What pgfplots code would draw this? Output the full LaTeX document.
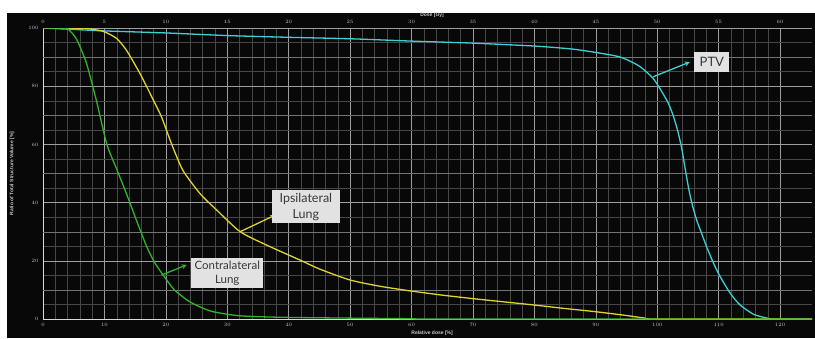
\documentclass[border=0pt]{standalone}
\usepackage{pgfplots}
\pgfplotsset{compat=1.18}
\usepackage{fontspec}
\setmainfont{Lato}
\newfontfamily\tickfont{Liberation Sans}
\usetikzlibrary{arrows.meta}
\definecolor{ptvc}{RGB}{62,208,210}
\definecolor{ipsc}{RGB}{222,212,48}
\definecolor{conc}{RGB}{52,178,44}
\definecolor{boxc}{RGB}{226,226,226}
\definecolor{panel}{RGB}{8,8,8}
\begin{document}
\begin{tikzpicture}[x=1pt,y=1pt]
\fill[white] (0,0) rectangle (815,338);
\fill[panel] (7,0) rectangle (815,325);
\begin{axis}[
  at={(43pt,19pt)}, anchor=south west,
  scale only axis, width=769pt, height=291pt,
  xmin=0, xmax=125.2, ymin=0, ymax=100,
  clip mode=individual,
  axis line style={draw=white!85!black, line width=0.8pt},
  axis x line*=bottom, axis y line*=left,
  xtick={0,10,...,120}, ytick={0,20,...,100},
  extra y ticks={10,30,50,70,90}, extra y tick labels={},
  extra y tick style={grid=major, major grid style={draw=white!45!black, line width=0.4pt}},
  minor x tick num=4, minor y tick num=3,
  grid=both,
  major grid style={draw=white!62!black, line width=0.5pt},
  minor grid style={draw=white!28!black, line width=0.4pt},
  major tick length=0pt, minor tick length=0pt,
  ticklabel style={font=\tickfont\bfseries\fontsize{5.5}{6.5}\selectfont, text=white!78!black},
  xticklabel style={yshift=-1pt},
  yticklabel style={xshift=-1pt},
]
\addplot[ptvc, line width=1.3pt, smooth, tension=0.4] coordinates {
(0,100) (3,99.7) (6,99.4) (10,99.0) (20,98.3) (30,97.4) (40,96.8) (50,96.3)
(60,95.5) (70,94.8) (80,93.8) (86,92.8) (90,91.6) (94,90) (97,87) (99.4,82.5)
(101.6,75) (102.5,70.5) (103.3,65) (104,58.5) (104.6,51) (105.2,44) (105.8,38.5)
(106.5,33.5) (107.3,29) (108.1,24.5) (109.1,19.5) (110.1,15.1) (111.9,8.8)
(113.5,4.8) (115.7,1.6) (117.9,0.3) (119,0) (125.2,0)};
\addplot[ipsc, line width=1.3pt, smooth, tension=0.4] coordinates {
(0,100) (4,100) (7,99.8) (8.5,99.4) (10,98.7) (12,96.4) (13.6,92.3) (15.8,84.3)
(18,75.1) (19.3,69.4) (21,59.8) (22.8,51) (25.6,43) (28.3,37.4) (32.1,30) (36.4,25.4)
(41.9,20.2) (45,17.2) (50,13.4) (55,11.2) (60,9.6) (65,8.2) (70,7.0) (75,5.9)
(80,4.8) (85,3.6) (90,2.5) (95,1.2) (98,0.3) (100,0) (125.2,0)};
\addplot[conc, line width=1.3pt, smooth, tension=0.4] coordinates {
(0,100) (3,100) (4.1,99.6) (5.5,96) (7.1,87.7) (8.7,75) (10.4,60) (12,51.5)
(13.6,43) (15.2,34) (16.9,24.8) (18.2,19.3) (19.6,15.0) (21.3,10.2) (23.6,6.3)
(25.5,4.2) (27.7,2.5) (32,1.1) (38.6,0.6) (50,0.3) (60,0.1) (65,0) (125.2,0)};
\draw[-{Stealth[length=5pt,width=5pt]}, ptvc, line width=1.3pt] (axis cs:99.3,83.2) -- (axis cs:105.3,88.3);
\draw[-{Stealth[length=5pt,width=5pt]}, ipsc, line width=1.3pt] (axis cs:32.1,30.0) -- (axis cs:37.8,35.7);
\draw[-{Stealth[length=5pt,width=5pt]}, conc, line width=1.3pt] (axis cs:19.3,15.1) -- (axis cs:23.4,18.6);
\node[fill=boxc, text=black!78, font=\fontsize{13}{15}\selectfont, minimum width=35pt, minimum height=20pt, inner sep=1pt] at (axis cs:108.9,88.3) {PTV};
\node[fill=boxc, text=black!78, font=\fontsize{12.5}{16}\selectfont, align=center, minimum width=68pt, minimum height=33pt, inner sep=1pt] at (axis cs:42.8,38.6) {Ipsilateral\\Lung};
\node[fill=boxc, text=black!78, font=\fontsize{11.5}{14}\selectfont, align=center, minimum width=72pt, minimum height=30pt, inner sep=1pt] at (axis cs:30.0,15.8) {Contralateral\\Lung};
\node[font=\tickfont\bfseries\fontsize{5}{6}\selectfont, text=white!78!black] at ([yshift=-14pt]rel axis cs:0.506,0) {Relative dose [\%]};
\node[font=\tickfont\bfseries\fontsize{5}{6}\selectfont, text=white!78!black] at ([yshift=13pt]rel axis cs:0.506,1) {Dose [Gy]};
\node[font=\tickfont\bfseries\fontsize{5}{6}\selectfont, text=white!78!black, rotate=90] at ([xshift=-31pt]rel axis cs:0,0.5) {Ratio of Total Structure Volume [\%]};
\end{axis}
\begin{axis}[
  at={(43pt,19pt)}, anchor=south west,
  scale only axis, width=769pt, height=291pt,
  xmin=0, xmax=62.6, ymin=0, ymax=100,
  axis x line*=top, hide y axis,
  axis line style={draw=none},
  xtick={0,5,...,60},
  major tick length=0pt,
  ticklabel style={font=\tickfont\bfseries\fontsize{5.5}{6.5}\selectfont, text=white!78!black},
  xticklabel style={yshift=1pt},
]
\addplot[draw=none] coordinates {(0,0) (62.6,100)};
\end{axis}
\pgfresetboundingbox
\path (0,0) rectangle (815,338);
\end{tikzpicture}
\end{document}
